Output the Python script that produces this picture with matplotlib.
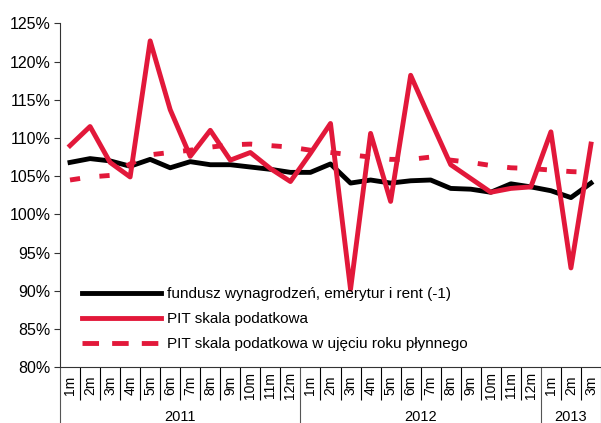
import numpy as np
import matplotlib
matplotlib.use('Agg')
from matplotlib import pyplot as plt
from matplotlib.lines import Line2D
import matplotlib.ticker as mtick

plt.rcParams['font.family'] = ['Liberation Sans', 'DejaVu Sans']

months = ['1m', '2m', '3m', '4m', '5m', '6m', '7m', '8m', '9m', '10m', '11m', '12m'] * 2 + ['1m', '2m', '3m']
years = ['2011', '2012', '2013']
year_len = [12, 12, 3]

fundusz = [106.8, 107.3, 107.0, 106.3, 107.2, 106.1, 106.9, 106.5, 106.5, 106.2, 105.9, 105.5,
           105.5, 106.6, 104.1, 104.5, 104.1, 104.4, 104.5, 103.4, 103.3, 102.9, 104.0, 103.6,
           103.1, 102.2, 104.1]
pit = [109.0, 111.5, 106.8, 104.9, 122.7, 113.7, 107.6, 111.0, 107.1, 108.1, 106.0, 104.3,
       108.0, 111.9, 90.2, 110.6, 101.7, 118.2, 112.3, 106.5, 104.7, 102.9, 103.4, 103.6,
       110.8, 93.0, 109.2]
pit_rok = [104.5, 104.9, 105.1, 106.6, 107.8, 108.1, 108.4, 108.8, 109.1, 109.2, 109.0, 108.8,
           108.4, 108.1, 107.8, 107.5, 107.2, 107.2, 107.5, 107.1, 106.8, 106.4, 106.1, 106.0,
           105.8, 105.6, 105.5]
labels = ['fundusz wynagrodzeń, emerytur i rent (-1)', 'PIT skala podatkowa',
          'PIT skala podatkowa w ujęciu roku płynnego']

red = '#e2183a'
lw = 3.5
x = np.arange(len(months))

fig = plt.figure(figsize=(6.01, 4.23), dpi=100)
ax = fig.add_axes([60 / 601, 1 - 367.3 / 423, 541 / 601, (367.3 - 23.3) / 423])

ax.plot(x, fundusz, color='black', lw=lw)
ax.plot(x, pit, color=red, lw=lw)
ax.plot(x, pit_rok, color=red, lw=lw, dashes=(2.1, 4.0))

ax.set_ylim(80, 125)
ax.set_yticks(np.arange(80, 126, 5))
ax.yaxis.set_major_formatter(mtick.FuncFormatter(lambda v, p: '%d%%' % v))
ax.tick_params(axis='y', direction='out', length=4, width=0.8, colors='#333333',
               labelsize=11.5, labelcolor='black', pad=3)

ax.set_xlim(-0.5, len(months) - 0.5)
# month separators (minor) and year separators (major)
bounds = np.cumsum([0] + year_len) - 0.5
ax.set_xticks(bounds)
ax.set_xticks(np.arange(-0.5, len(months)), minor=True)
ax.set_xticklabels([])
ax.tick_params(axis='x', which='minor', direction='out', length=24, width=0.8, colors='black')
ax.tick_params(axis='x', which='major', direction='out', length=41, width=0.8, colors='#555555')

trans = ax.get_xaxis_transform()
for i, m in enumerate(months):
    ax.text(i, -0.052, m, rotation=90, ha='center', va='center', fontsize=10, transform=trans)
start = 0
for y, n in zip(years, year_len):
    ax.text(start + (n - 1) / 2, -0.145, y, ha='center', va='center', fontsize=10.5, transform=trans)
    start += n

for s in ['top', 'right']:
    ax.spines[s].set_visible(False)
for s in ['left', 'bottom']:
    ax.spines[s].set_color('#333333')
    ax.spines[s].set_linewidth(0.8)

handles = [Line2D([], [], color='black', lw=lw),
           Line2D([], [], color=red, lw=lw),
           Line2D([], [], color=red, lw=lw, dashes=(3.4, 2.7))]
ax.legend(handles, labels, loc='lower left', bbox_to_anchor=(0.02, 0.015), frameon=False,
          fontsize=11, handlelength=5.2, handletextpad=0.4, labelspacing=0.73, borderaxespad=0.3)

fig.savefig('out.png', dpi=100)
